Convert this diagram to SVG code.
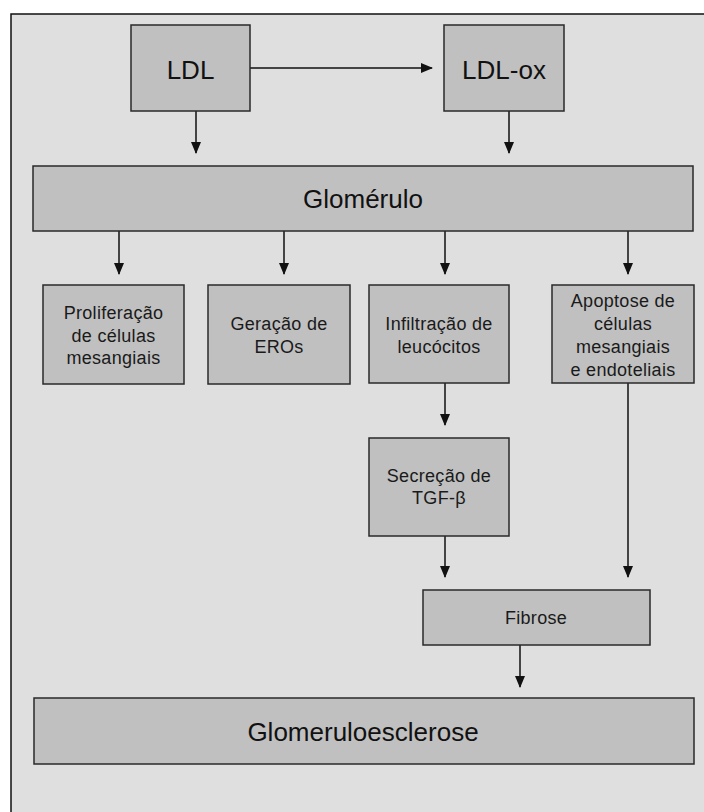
<svg xmlns="http://www.w3.org/2000/svg" width="704" height="812" viewBox="0 0 704 812">
<style>
.box{fill:#c0c0c0;stroke:#2a2a2a;stroke-width:1.5}
.big{font-family:"Liberation Sans",Arial,sans-serif;font-size:26px;fill:#111;text-anchor:middle}
.sm{font-family:"Liberation Sans",Arial,sans-serif;font-size:18px;fill:#1a1a1a;text-anchor:middle;letter-spacing:0.3px}
.con{stroke:#111;stroke-width:1.5;fill:none;marker-end:url(#ah)}
</style>
<defs>
<marker id="ah" viewBox="0 0 12 10" refX="11" refY="5" markerWidth="12" markerHeight="10" orient="auto" markerUnits="userSpaceOnUse">
<path d="M0,0 L12,5 L0,10 z" fill="#111"/>
</marker>
</defs>
<rect x="0" y="0" width="704" height="812" fill="#ffffff"/>
<rect x="11" y="14" width="693" height="798" fill="#dfdfdf"/>
<path d="M11,812 L11,14 L704,14" fill="none" stroke="#111" stroke-width="1.5"/>

<g id="connectors">
<line class="con" x1="250" y1="68" x2="432" y2="68"/>
<line class="con" x1="196" y1="111" x2="196" y2="153"/>
<line class="con" x1="509" y1="111" x2="509" y2="153"/>
<line class="con" x1="119" y1="231" x2="119" y2="274"/>
<line class="con" x1="284" y1="231" x2="284" y2="274"/>
<line class="con" x1="445" y1="231" x2="445" y2="274"/>
<line class="con" x1="628" y1="231" x2="628" y2="274"/>
<line class="con" x1="445" y1="383" x2="445" y2="425"/>
<line class="con" x1="445" y1="536" x2="445" y2="577"/>
<line class="con" x1="628" y1="383" x2="628" y2="577"/>
<line class="con" x1="520" y1="645" x2="520" y2="687"/>
</g>

<g id="ldl">
<rect class="box" x="131" y="25" width="119" height="86"/>
<text class="big" x="190.5" y="79">LDL</text>
</g>
<g id="ldl-ox">
<rect class="box" x="444" y="25" width="120" height="86"/>
<text class="big" x="504" y="79">LDL-ox</text>
</g>
<g id="glomerulo">
<rect class="box" x="33" y="166" width="660" height="65"/>
<text class="big" x="363" y="208">Glomérulo</text>
</g>
<g id="proliferacao">
<rect class="box" x="43" y="285" width="141" height="99"/>
<text class="sm" x="113.5" y="319">Proliferação</text>
<text class="sm" x="113.5" y="342">de células</text>
<text class="sm" x="113.5" y="364">mesangiais</text>
</g>
<g id="geracao">
<rect class="box" x="208" y="285" width="142" height="99"/>
<text class="sm" x="279" y="330">Geração de</text>
<text class="sm" x="279" y="353">EROs</text>
</g>
<g id="infiltracao">
<rect class="box" x="369" y="285" width="140" height="98"/>
<text class="sm" x="439" y="330">Infiltração de</text>
<text class="sm" x="439" y="353">leucócitos</text>
</g>
<g id="apoptose">
<rect class="box" x="552" y="285" width="142" height="98"/>
<text class="sm" x="623" y="307">Apoptose de</text>
<text class="sm" x="623" y="330">células</text>
<text class="sm" x="623" y="353">mesangiais</text>
<text class="sm" x="623" y="376">e endoteliais</text>
</g>
<g id="secrecao">
<rect class="box" x="369" y="438" width="140" height="98"/>
<text class="sm" x="439" y="482">Secreção de</text>
<text class="sm" x="439" y="504">TGF-β</text>
</g>
<g id="fibrose">
<rect class="box" x="423" y="590" width="227" height="55"/>
<text class="sm" x="536" y="624">Fibrose</text>
</g>
<g id="glomeruloesclerose">
<rect class="box" x="34" y="698" width="660" height="66"/>
<text class="big" x="363" y="741">Glomeruloesclerose</text>
</g>
</svg>
